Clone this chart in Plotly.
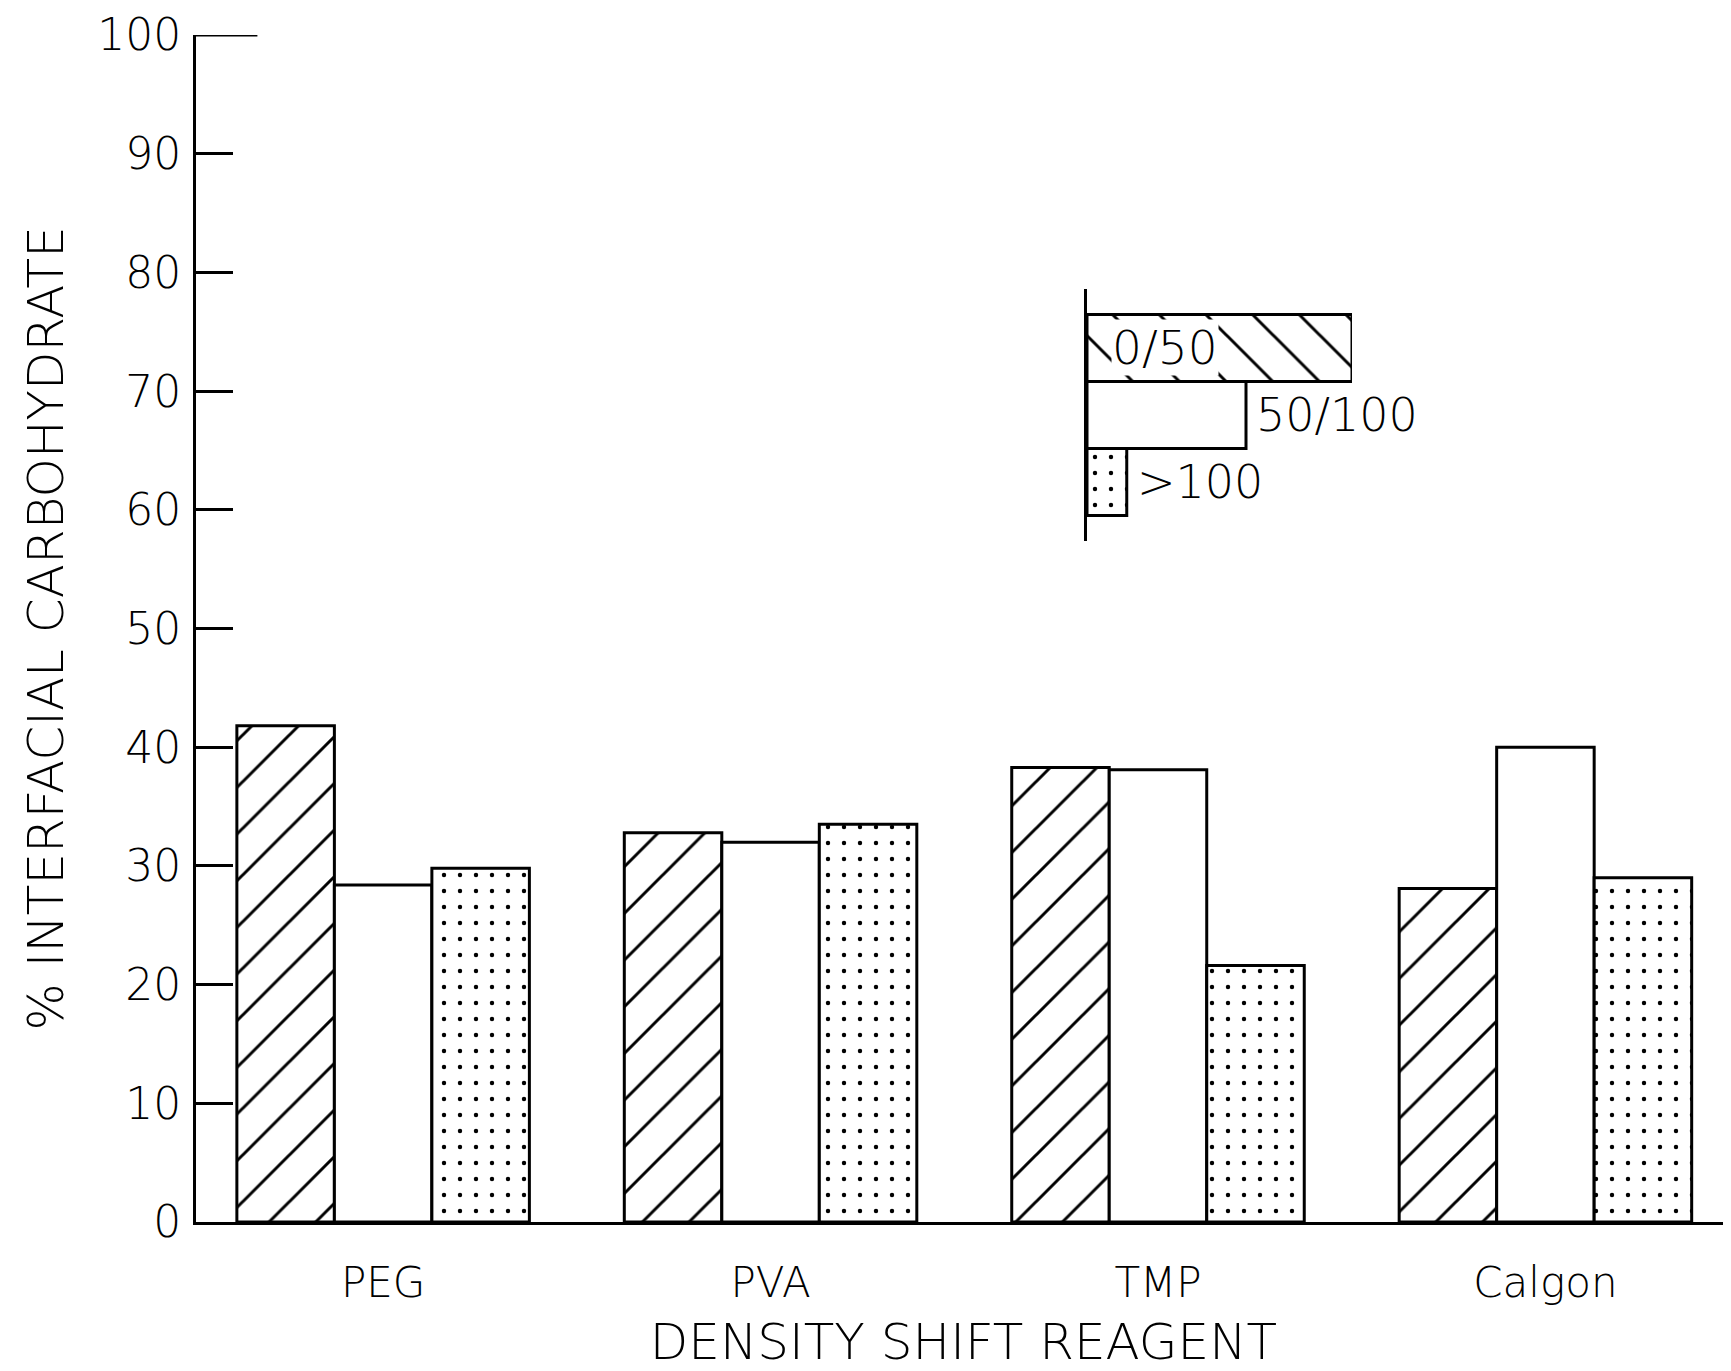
import plotly.graph_objects as go

# ---------------- data ----------------
categories = ["PEG", "PVA", "TMP", "Calgon"]
series_names = ["0/50", "50/100", ">100"]
vals_0_50 = [41.8, 32.8, 38.3, 28.1]
vals_50_100 = [28.4, 32.0, 38.1, 40.0]
vals_gt100 = [29.8, 33.5, 21.6, 29.0]
y_tick_vals = [0, 10, 20, 30, 40, 50, 60, 70, 80, 90, 100]
y_tick_text = ["0", "10", "20", "30", "40", "50", "60", "70", "80", "90", "100"]
legend_labels = ["0/50", "50/100", ">100"]
legend_lengths = [100, 60, 15]   # relative lengths of the key bars

# ---------------- style ----------------
FONT = "DejaVu Sans"
WT = 200
INK = "black"
x_pos = list(range(len(categories)))

patterns = ["/", "", "."]
pattern_sizes = [33, 10, 16]
pattern_solid = [0.09, 0.0, 0.06]
series_vals = [vals_0_50, vals_50_100, vals_gt100]

fig = go.Figure()
for name, vals, shp, sz, sol in zip(series_names, series_vals, patterns, pattern_sizes, pattern_solid):
    fig.add_trace(go.Bar(
        x=x_pos, y=vals, name=name,
        marker=dict(color="white",
                    line=dict(color=INK, width=3),
                    pattern=dict(shape=shp, size=sz, solidity=sol,
                                 fgcolor=INK, bgcolor="white", fillmode="replace")),
        showlegend=False, hoverinfo="skip",
    ))

# inset key drawn as a small horizontal bar chart
key_pos = list(range(len(legend_labels)))[::-1]  # top to bottom
fig.add_trace(go.Bar(
    x=legend_lengths, y=key_pos, orientation="h", width=1,
    xaxis="x2", yaxis="y2",
    marker=dict(color="white",
                line=dict(color=INK, width=3),
                pattern=dict(shape=["\\", "", "."], size=[33, 10, 16],
                             solidity=[0.09, 0.0, 0.06],
                             fgcolor=INK, bgcolor="white", fillmode="replace")),
    showlegend=False, hoverinfo="skip",
))

# key labels
for lab, ln, yp in zip(legend_labels, legend_lengths, key_pos):
    if lab == legend_labels[0]:
        fig.add_annotation(x=9, y=yp, xref="x2", yref="y2", text=lab,
                           xanchor="left", yanchor="middle", showarrow=False,
                           bgcolor="white", borderpad=0,
                           font=dict(family=FONT, size=47, color=INK, weight=WT))
    else:
        fig.add_annotation(x=ln + 3, y=yp, xref="x2", yref="y2", text=lab,
                           xanchor="left", yanchor="middle", showarrow=False,
                           font=dict(family=FONT, size=46, color=INK, weight=WT))

# longer tick at 100
fig.add_shape(type="line", xref="x domain", yref="y", x0=0, x1=0.04, y0=100, y1=100,
              line=dict(color=INK, width=3))

# page has an 8px body margin: figure is sized to fit the 1731x1371 window
W, H = 1723, 1363
L, R, T, B = 188, 0, 27, 149
plot_w = W - L - R
plot_h = H - T - B
OFF = 8

def px_x(p):
    return (p - OFF - L) / plot_w

def px_y(p):
    return (H - B - (p - OFF)) / plot_h

fig.update_layout(
    width=W, height=H,
    margin=dict(l=L, r=R, t=T, b=B, autoexpand=False),
    paper_bgcolor="white", plot_bgcolor="white",
    barmode="group", bargap=0.245, bargroupgap=0,
    font=dict(family=FONT, color=INK, size=44, weight=WT),
    xaxis=dict(
        range=[-0.483, 3.479], tickvals=x_pos, ticktext=categories,
        showline=True, linecolor=INK, linewidth=3,
        showgrid=False, zeroline=False, ticks="", ticklabelstandoff=22,
        tickfont=dict(family=FONT, size=42, weight=WT),
        title=dict(text="DENSITY SHIFT REAGENT", standoff=36,
                   font=dict(family=FONT, size=50, weight=WT)),
        automargin=False,
    ),
    yaxis=dict(
        range=[0, 100], tickvals=y_tick_vals, ticktext=y_tick_text,
        showline=True, linecolor=INK, linewidth=3,
        showgrid=False, zeroline=False,
        ticks="inside", ticklen=37, tickwidth=3, tickcolor=INK,
        ticklabelstandoff=3, ticklabeloverflow="allow",
        tickfont=dict(family=FONT, size=44, weight=WT),
        title=dict(text="% INTERFACIAL CARBOHYDRATE", standoff=18,
                   font=dict(family=FONT, size=50, weight=WT)),
        automargin=False,
    ),
    xaxis2=dict(domain=[px_x(1087), px_x(1352)], range=[0, 100], anchor="y2",
                visible=False),
    yaxis2=dict(domain=[px_y(541), px_y(289)], range=[-0.88, 2.88], anchor="x2",
                showline=True, linecolor=INK, linewidth=3, showticklabels=False,
                ticks="", showgrid=False, zeroline=False),
)

fig.write_html("out.html")
